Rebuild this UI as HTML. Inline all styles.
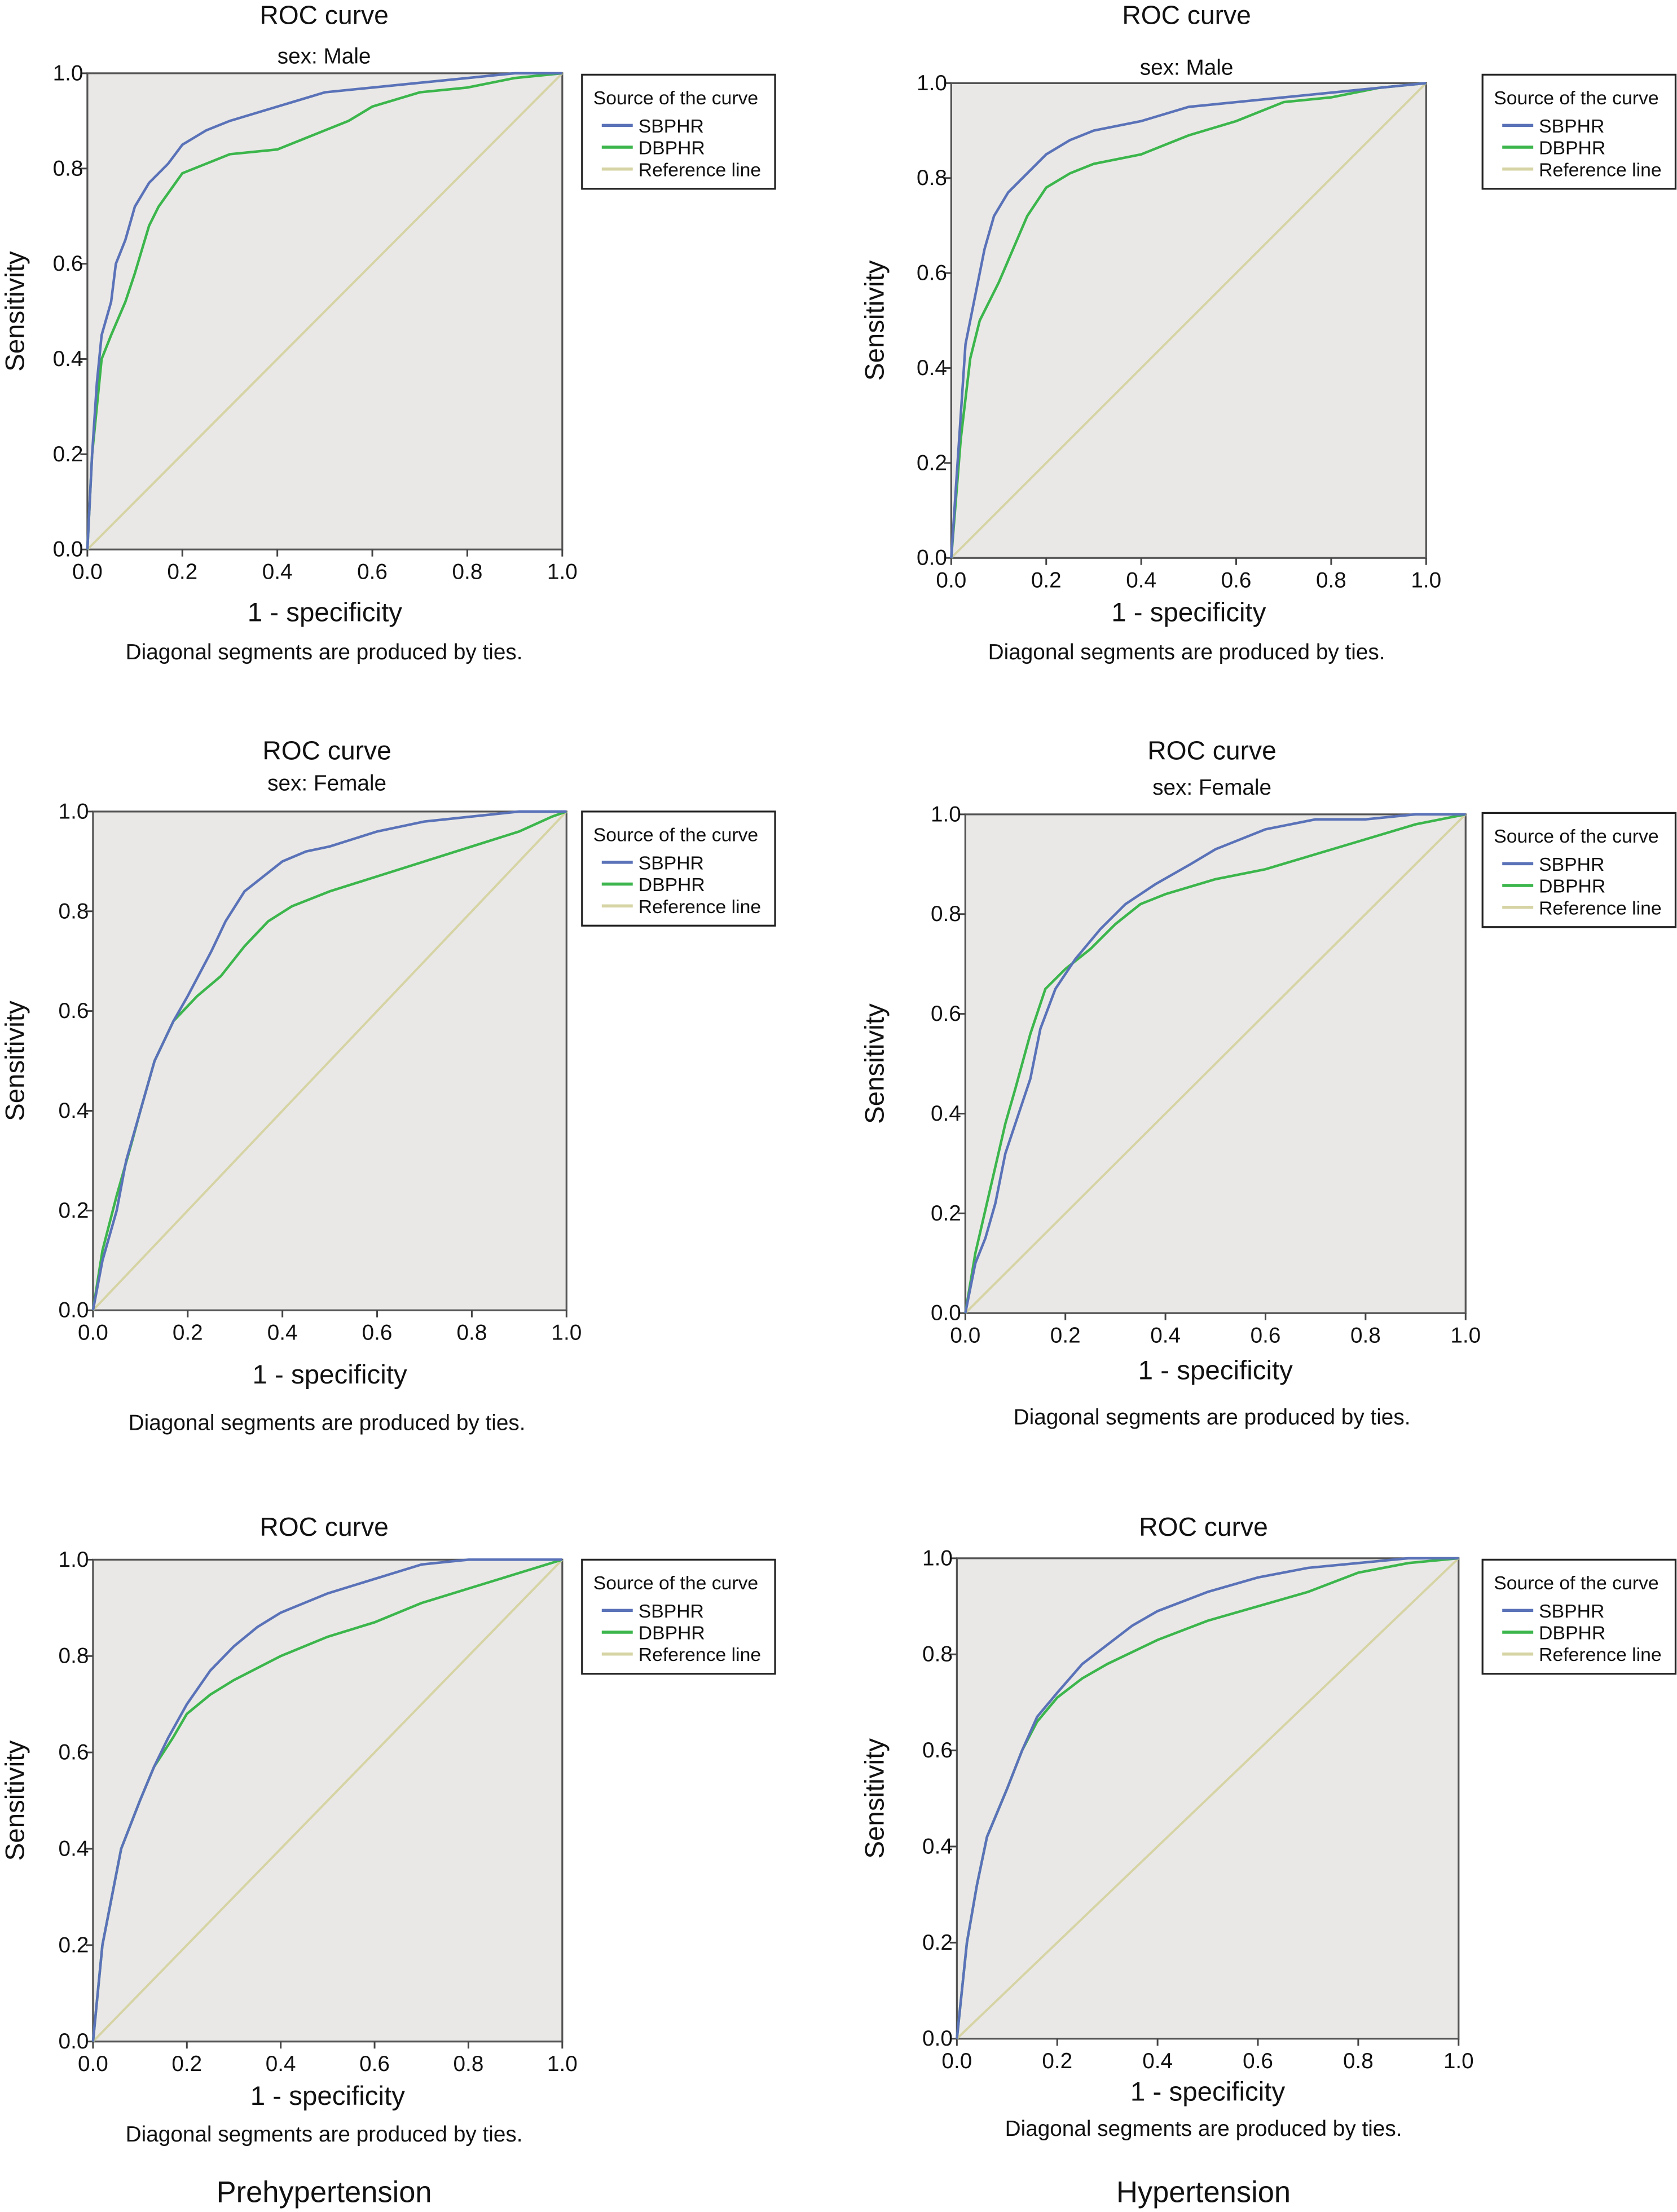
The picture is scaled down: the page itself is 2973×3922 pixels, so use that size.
<!DOCTYPE html>
<html><head><meta charset="utf-8"><style>
html,body{margin:0;padding:0;background:#fff;}
svg{display:block;font-family:"Liberation Sans",Arial,sans-serif;}
</style></head><body>
<svg id="fig" width="2973" height="3922" viewBox="0 0 1190 1570" preserveAspectRatio="none" xmlns="http://www.w3.org/2000/svg"></svg>
<script>
const panelNames = ["male-prehypertension","male-hypertension","female-prehypertension","female-hypertension","all-prehypertension","all-hypertension"];
const sbFpr = [
 [0,0.01,0.02,0.03,0.05,0.06,0.08,0.1,0.13,0.17,0.2,0.25,0.3,0.4,0.5,0.6,0.7,0.8,0.9,1],
 [0,0.02,0.03,0.05,0.07,0.09,0.12,0.15,0.2,0.25,0.3,0.4,0.5,0.6,0.7,0.8,0.9,1],
 [0,0.02,0.05,0.07,0.1,0.13,0.17,0.2,0.25,0.28,0.32,0.36,0.4,0.45,0.5,0.6,0.7,0.8,0.9,1],
 [0,0.02,0.04,0.06,0.08,0.1,0.13,0.15,0.18,0.22,0.27,0.32,0.38,0.45,0.5,0.6,0.7,0.8,0.9,1],
 [0,0.02,0.04,0.06,0.1,0.13,0.16,0.2,0.25,0.3,0.35,0.4,0.5,0.6,0.7,0.8,1],
 [0,0.02,0.04,0.06,0.1,0.13,0.16,0.2,0.25,0.3,0.35,0.4,0.5,0.6,0.7,0.8,0.9,1]
];
const sbTpr = [
 [0,0.2,0.35,0.45,0.52,0.6,0.65,0.72,0.77,0.81,0.85,0.88,0.9,0.93,0.96,0.97,0.98,0.99,1,1],
 [0,0.3,0.45,0.55,0.65,0.72,0.77,0.8,0.85,0.88,0.9,0.92,0.95,0.96,0.97,0.98,0.99,1],
 [0,0.1,0.2,0.3,0.4,0.5,0.58,0.63,0.72,0.78,0.84,0.87,0.9,0.92,0.93,0.96,0.98,0.99,1,1],
 [0,0.1,0.15,0.22,0.32,0.38,0.47,0.57,0.65,0.71,0.77,0.82,0.86,0.9,0.93,0.97,0.99,0.99,1,1],
 [0,0.2,0.3,0.4,0.5,0.57,0.63,0.7,0.77,0.82,0.86,0.89,0.93,0.96,0.99,1,1],
 [0,0.2,0.32,0.42,0.52,0.6,0.67,0.72,0.78,0.82,0.86,0.89,0.93,0.96,0.98,0.99,1,1]
];
const dbFpr = [
 [0,0.01,0.03,0.05,0.08,0.1,0.13,0.15,0.2,0.25,0.3,0.4,0.45,0.5,0.55,0.6,0.7,0.8,0.9,1],
 [0,0.02,0.04,0.06,0.1,0.13,0.16,0.2,0.25,0.3,0.4,0.5,0.6,0.7,0.8,0.9,1],
 [0,0.02,0.05,0.08,0.1,0.13,0.17,0.22,0.27,0.32,0.37,0.42,0.5,0.6,0.7,0.8,0.9,0.97,1],
 [0,0.02,0.05,0.08,0.1,0.13,0.16,0.2,0.25,0.3,0.35,0.4,0.5,0.6,0.7,0.8,0.9,1],
 [0,0.02,0.04,0.06,0.1,0.13,0.17,0.2,0.25,0.3,0.4,0.5,0.6,0.7,0.8,0.9,1],
 [0,0.02,0.04,0.06,0.1,0.13,0.16,0.2,0.25,0.3,0.4,0.5,0.6,0.7,0.8,0.9,1]
];
const dbTpr = [
 [0,0.2,0.4,0.45,0.52,0.58,0.68,0.72,0.79,0.81,0.83,0.84,0.86,0.88,0.9,0.93,0.96,0.97,0.99,1],
 [0,0.25,0.42,0.5,0.58,0.65,0.72,0.78,0.81,0.83,0.85,0.89,0.92,0.96,0.97,0.99,1],
 [0,0.12,0.23,0.33,0.4,0.5,0.58,0.63,0.67,0.73,0.78,0.81,0.84,0.87,0.9,0.93,0.96,0.99,1],
 [0,0.12,0.25,0.38,0.45,0.56,0.65,0.69,0.73,0.78,0.82,0.84,0.87,0.89,0.92,0.95,0.98,1],
 [0,0.2,0.3,0.4,0.5,0.57,0.63,0.68,0.72,0.75,0.8,0.84,0.87,0.91,0.94,0.97,1],
 [0,0.2,0.32,0.42,0.52,0.6,0.66,0.71,0.75,0.78,0.83,0.87,0.9,0.93,0.97,0.99,1]
];
const tickLabels = ["0.0","0.2","0.4","0.6","0.8","1.0"];
const tickValues = [0,0.2,0.4,0.6,0.8,1];
const subtitles = ["sex: Male","sex: Male","sex: Female","sex: Female","",""];

// layout (view units)
const L = [
 {x0:62,x1:399,y0:52,y1:390,tY:10,sY:39,lgX:413,lgY:53,xlY:434,nY:462,cx:230},
 {x0:675,x1:1012,y0:59,y1:396,tY:10,sY:47,lgX:1052,lgY:53,xlY:434,nY:462,cx:842},
 {x0:66,x1:402,y0:576,y1:930,tY:532,sY:555,lgX:413,lgY:576,xlY:975,nY:1009,cx:232},
 {x0:685,x1:1040,y0:578,y1:932,tY:532,sY:558,lgX:1052,lgY:577,xlY:972,nY:1005,cx:860},
 {x0:66,x1:399,y0:1107,y1:1449,tY:1083,sY:0,lgX:413,lgY:1107,xlY:1487,nY:1514,cx:230},
 {x0:679,x1:1035,y0:1106,y1:1447,tY:1083,sY:0,lgX:1052,lgY:1107,xlY:1484,nY:1510,cx:854}
];
const NS="http://www.w3.org/2000/svg";
const svg=document.getElementById('fig');
function mk(tag,attrs,parent,text){const e=document.createElementNS(NS,tag);for(const k in attrs)e.setAttribute(k,attrs[k]);if(text!==undefined)e.textContent=text;(parent||svg).appendChild(e);return e;}

panelNames.forEach((pn,i)=>{
 const p=L[i];
 const g=mk('g',{});
 
 
 const sx=v=>p.x0+v*(p.x1-p.x0);
 const sy=v=>p.y1-v*(p.y1-p.y0);
 const bg=mk('rect',{x:p.x0,y:p.y0,width:p.x1-p.x0,height:p.y1-p.y0,fill:'#e9e8e6',stroke:'#555',"stroke-width":1.3},g);
 
 
 const t=mk('text',{x:p.cx,y:p.tY+7,"font-size":18.5,"text-anchor":"middle",fill:'#111'},g,'ROC curve');
 
 
 if(subtitles[i]){
  const s=mk('text',{x:p.cx,y:p.sY+6,"font-size":15.5,"text-anchor":"middle",fill:'#111'},g,subtitles[i]);
  
  
 }
 tickValues.forEach((v,k)=>{
  mk('line',{x1:sx(v),x2:sx(v),y1:p.y1,y2:p.y1+5,stroke:'#444',"stroke-width":1.2},g);
  mk('line',{x1:p.x0-5,x2:p.x0,y1:sy(v),y2:sy(v),stroke:'#444',"stroke-width":1.2},g);
  const xt=mk('text',{x:sx(v),y:p.y1+21,"font-size":15.5,"text-anchor":"middle",fill:'#111'},g,tickLabels[k]);
  
  
  const yt=mk('text',{x:p.x0-3,y:sy(v)+5,"font-size":15.5,"text-anchor":"end",fill:'#111'},g,tickLabels[k]);
  
  
 });
 const ref=mk('line',{x1:sx(0),y1:sy(0),x2:sx(1),y2:sy(1),stroke:'#d6d4a4',"stroke-width":1.6},g);
 
 
 const db=mk('polyline',{points:dbFpr[i].map((f,k)=>sx(f)+','+sy(dbTpr[i][k])).join(' '),fill:'none',stroke:'#3cb64c',"stroke-width":1.8},g);
 
 
 const sb=mk('polyline',{points:sbFpr[i].map((f,k)=>sx(f)+','+sy(sbTpr[i][k])).join(' '),fill:'none',stroke:'#5a72b8',"stroke-width":1.8},g);
 
 
 const xl=mk('text',{x:(p.x0+p.x1)/2,y:p.xlY+7,"font-size":19,"text-anchor":"middle",fill:'#111'},g,'1 - specificity');
 
 
 const yl=mk('text',{x:0,y:0,"font-size":19,"text-anchor":"middle",fill:'#111',transform:`translate(${i%2?627:17},${(p.y0+p.y1)/2}) rotate(-90)`},g,'Sensitivity');
 
 
 const nt=mk('text',{x:p.cx,y:p.nY+6,"font-size":15.5,"text-anchor":"middle",fill:'#111'},g,'Diagonal segments are produced by ties.');
 
 
 const lg=mk('g',{},g);
 
 
 mk('rect',{x:p.lgX,y:p.lgY,width:137,height:81,fill:'#fff',stroke:'#222',"stroke-width":1.3},lg);
 mk('text',{x:p.lgX+8,y:p.lgY+21,"font-size":13.5,fill:'#111'},lg,'Source of the curve');
 const items=[['SBPHR','#5a72b8'],['DBPHR','#3cb64c'],['Reference line','#d6d4a4']];
 items.forEach((it,k)=>{
  const yy=p.lgY+36+k*15.5;
  mk('line',{x1:p.lgX+14,x2:p.lgX+36,y1:yy,y2:yy,stroke:it[1],"stroke-width":2.2},lg);
  const lt=mk('text',{x:p.lgX+40,y:yy+5,"font-size":13.5,fill:'#111'},lg,it[0]);
  
  
 });
});
const c1=mk('text',{x:230,y:1563,"font-size":21,"text-anchor":"middle",fill:'#111'},svg,'Prehypertension');


const c2=mk('text',{x:854,y:1563,"font-size":21,"text-anchor":"middle",fill:'#111'},svg,'Hypertension');


</script>
</body></html>
